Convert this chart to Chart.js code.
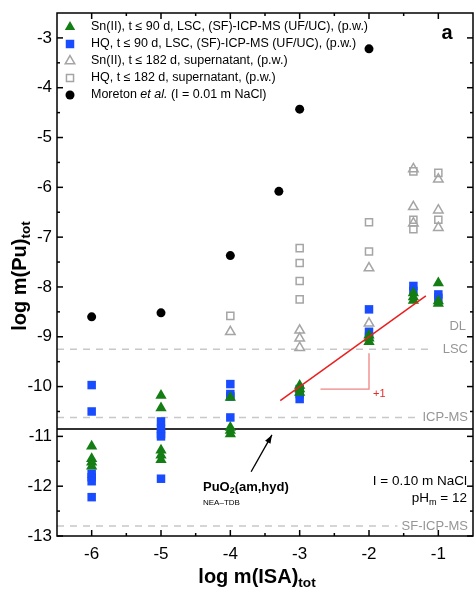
<!DOCTYPE html>
<html>
<head>
<meta charset="utf-8">
<script src="https://cdn.jsdelivr.net/npm/chart.js@4/dist/chart.umd.min.js"></script>
<style>
  html, body { margin: 0; padding: 0; background: #fff; overflow: hidden; width: 475px; height: 592px; }
  #wrap { position: relative; width: 480px; height: 592px; }
</style>
</head>
<body>
<div id="wrap"><canvas id="chart" width="480" height="592"></canvas></div>
<script>
// Pu solubility vs. ISA concentration, I = 0.10 m NaCl, pHm = 12

const FONT = '"Liberation Sans", Arial, Helvetica, sans-serif';

// Sn(II), t <= 90 d (LSC / (SF)-ICP-MS)
const snX = [-6, -6, -6, -6, -5, -5, -5, -5, -5, -4, -4, -4, -4, -3, -3, -3, -2, -2, -2, -1.36, -1.36, -1.36, -1, -1, -1];
const snY = [-11.2, -11.45, -11.52, -11.6, -10.18, -10.43, -11.28, -11.38, -11.47, -10.22, -10.82, -10.88, -10.95,
             -9.98, -10.05, -10.12, -8.97, -9.03, -9.1, -8.12, -8.2, -8.27, -7.92, -8.28, -8.33];

// HQ, t <= 90 d
const hqX = [-6, -6, -6, -6, -6, -6, -5, -5, -5, -5, -5, -4, -4, -4, -4, -3, -3, -3, -2, -2, -2, -1.36, -1.36, -1, -1];
const hqY = [-9.97, -10.5, -11.75, -11.82, -11.9, -12.22, -10.7, -10.85, -10.95, -11.0, -11.85, -9.95, -10.15, -10.2, -10.62,
             -10.05, -10.15, -10.25, -8.45, -8.9, -9.0, -7.98, -8.08, -8.15, -8.22];

// Sn(II), t <= 182 d, supernatant
const snSupX = [-4, -3, -3, -3, -2, -2, -1.36, -1.36, -1.36, -1, -1, -1];
const snSupY = [-8.9, -8.87, -9.03, -9.22, -7.62, -8.73, -5.63, -6.39, -6.72, -5.84, -6.46, -6.81];

// HQ, t <= 182 d, supernatant
const hqSupX = [-4, -3, -3, -3, -3, -2, -2, -1.36, -1.36, -1.36, -1, -1];
const hqSupY = [-8.58, -7.22, -7.52, -7.88, -8.25, -6.7, -7.29, -5.68, -6.65, -6.84, -5.71, -6.65];

// Moreton et al. (I = 0.01 m NaCl)
const morX = [-6, -5, -4, -3.3, -3, -2];
const morY = [-8.6, -8.52, -7.37, -6.08, -4.43, -3.22];

// slope-1 guide line and its +1 triangle
const slopeX = [-3.28, -1.18];
const slopeY = [-10.28, -8.18];
const triX = [-2.7, -2.0, -2.0];
const triY = [-10.05, -10.05, -9.33];

// detection limits and PuO2(am,hyd) solubility
const lscY = -9.25, icpY = -10.62, sfY = -12.8, puo2Y = -10.85;
const lscEnd = -1.08, icpEnd = -1.27, sfEnd = -1.59;

const xTicks = [-6, -5, -4, -3, -2, -1];
const xMinor = [-5.5, -4.5, -3.5, -2.5, -1.5];
const yTicks = [-13, -12, -11, -10, -9, -8, -7, -6, -5, -4, -3];
const yMinor = [-12.5, -11.5, -10.5, -9.5, -8.5, -7.5, -6.5, -5.5, -4.5, -3.5];

const X_MIN = -6.5, X_MAX = -0.5, Y_MIN = -13, Y_MAX = -2.5;

const GREEN = 'rgb(20,125,20)';
const BLUE = 'rgb(25,75,255)';
const GRAY = 'rgb(165,165,165)';
const LIMIT = 'rgb(200,200,200)';

const pts = (xs, ys) => xs.map((x, i) => ({ x, y: ys[i] }));

function font(size, weight, style) {
  return `${style || 'normal'} ${weight || 'normal'} ${size}px ${FONT}`;
}

// text with optional subscript / italic pieces
function richText(ctx, parts, x, y, size, weight, align) {
  const fontFor = p => font(p.sub ? size * 0.68 : size, weight, p.it ? 'italic' : 'normal');
  let w = 0;
  parts.forEach(p => { ctx.font = fontFor(p); w += ctx.measureText(p.t).width; });
  let cx = align === 'right' ? x - w : align === 'center' ? x - w / 2 : x;
  ctx.textAlign = 'left';
  ctx.textBaseline = 'middle';
  parts.forEach(p => {
    ctx.font = fontFor(p);
    ctx.fillText(p.t, cx, p.sub ? y + size * 0.3 : y);
    cx += ctx.measureText(p.t).width;
  });
}

// scale label padding would shrink the plot area; the frame is drawn by hand
const noPad = s => { s.paddingLeft = 0; s.paddingRight = 0; s.paddingTop = 0; s.paddingBottom = 0; };

const frameAndNotes = {
  id: 'frameAndNotes',
  afterDraw(chart) {
    const { ctx, chartArea: a, scales: { x, y } } = chart;
    ctx.save();

    // box and inward ticks
    ctx.strokeStyle = '#000';
    ctx.lineWidth = 1.5;
    ctx.strokeRect(a.left, a.top, a.right - a.left, a.bottom - a.top);
    const tick = (x1, y1, x2, y2) => { ctx.beginPath(); ctx.moveTo(x1, y1); ctx.lineTo(x2, y2); ctx.stroke(); };
    xTicks.forEach(v => { const p = x.getPixelForValue(v); tick(p, a.bottom, p, a.bottom - 6); tick(p, a.top, p, a.top + 6); });
    xMinor.forEach(v => { const p = x.getPixelForValue(v); tick(p, a.bottom, p, a.bottom - 3); tick(p, a.top, p, a.top + 3); });
    yTicks.forEach(v => { const p = y.getPixelForValue(v); tick(a.left, p, a.left + 6, p); tick(a.right, p, a.right - 6, p); });
    yMinor.forEach(v => { const p = y.getPixelForValue(v); tick(a.left, p, a.left + 3, p); tick(a.right, p, a.right - 3, p); });

    // axis titles
    ctx.fillStyle = '#000';
    richText(ctx, [{ t: 'log m(ISA)' }, { t: 'tot', sub: true }], 257, 577, 20, 'bold', 'center');
    ctx.save();
    ctx.translate(20, 276);
    ctx.rotate(-Math.PI / 2);
    richText(ctx, [{ t: 'log m(Pu)' }, { t: 'tot', sub: true }], 0, 0, 20, 'bold', 'center');
    ctx.restore();

    // panel letter
    ctx.font = font(20, 'bold');
    ctx.textAlign = 'center';
    ctx.textBaseline = 'middle';
    ctx.fillText('a', 447, 33);

    // limit labels
    ctx.fillStyle = 'rgb(150,150,150)';
    ctx.font = font(13);
    ctx.textAlign = 'right';
    ctx.fillText('DL', 466, 326);
    ctx.fillText('LSC', 468, y.getPixelForValue(lscY));
    ctx.fillText('ICP-MS', 468, y.getPixelForValue(icpY));
    ctx.fillText('SF-ICP-MS', 468, y.getPixelForValue(sfY));

    // +1 label
    ctx.fillStyle = 'rgb(230,40,40)';
    ctx.font = font(11);
    ctx.textAlign = 'left';
    ctx.fillText('+1', 373, 394);

    // PuO2(am,hyd) annotation with arrow
    ctx.fillStyle = '#000';
    richText(ctx, [{ t: 'PuO' }, { t: '2', sub: true }, { t: '(am,hyd)' }], 203, 487, 13, 'bold', 'left');
    ctx.font = font(8);
    ctx.textAlign = 'left';
    ctx.fillText('NEA\u2013TDB', 203, 503);
    const tx = x.getPixelForValue(-3.70), ty = y.getPixelForValue(-11.71);
    const hx = x.getPixelForValue(-3.40), hy = y.getPixelForValue(-10.97);
    ctx.strokeStyle = '#000';
    ctx.lineWidth = 1.3;
    tick(tx, ty, hx, hy);
    const ang = Math.atan2(hy - ty, hx - tx);
    ctx.beginPath();
    ctx.moveTo(hx, hy);
    ctx.lineTo(hx - 9 * Math.cos(ang - 0.35), hy - 9 * Math.sin(ang - 0.35));
    ctx.lineTo(hx - 9 * Math.cos(ang + 0.35), hy - 9 * Math.sin(ang + 0.35));
    ctx.closePath();
    ctx.fill();

    // conditions
    ctx.fillStyle = '#000';
    richText(ctx, [{ t: 'I = 0.10 m NaCl' }], 467, 481, 13.5, 'normal', 'right');
    richText(ctx, [{ t: 'pH' }, { t: 'm', sub: true }, { t: ' = 12' }], 467, 498, 13.5, 'normal', 'right');

    // legend
    const rows = [
      { style: 'triangle', r: 6, fill: GREEN, stroke: GREEN, parts: [{ t: 'Sn(II), t \u2264 90 d, LSC, (SF)-ICP-MS (UF/UC), (p.w.)' }] },
      { style: 'rect', r: 6, fill: BLUE, stroke: BLUE, parts: [{ t: 'HQ, t \u2264 90 d, LSC, (SF)-ICP-MS (UF/UC), (p.w.)' }] },
      { style: 'triangle', r: 5.5, fill: null, stroke: GRAY, parts: [{ t: 'Sn(II), t \u2264 182 d, supernatant, (p.w.)' }] },
      { style: 'rect', r: 5, fill: null, stroke: GRAY, parts: [{ t: 'HQ, t \u2264 182 d, supernatant, (p.w.)' }] },
      { style: 'circle', r: 4.5, fill: '#000', stroke: '#000', parts: [{ t: 'Moreton ' }, { t: 'et al.', it: true }, { t: ' (I = 0.01 m NaCl)' }] }
    ];
    rows.forEach((row, i) => {
      const ry = 27 + i * 17;
      ctx.fillStyle = row.fill || 'rgba(0,0,0,0)';
      ctx.strokeStyle = row.stroke;
      ctx.lineWidth = 1.5;
      Chart.helpers.drawPoint(ctx, { pointStyle: row.style, radius: row.r, rotation: 0, borderWidth: row.fill ? 0 : 1.5 }, 70, ry);
      ctx.fillStyle = '#000';
      richText(ctx, row.parts, 91, ry, 12.5, 'normal', 'left');
    });

    ctx.restore();
  }
};

const scatterSet = (label, xs, ys, style, r, fill, stroke, bw) => ({
  label, data: pts(xs, ys), pointStyle: style, pointRadius: r,
  backgroundColor: fill, borderColor: stroke, pointBorderWidth: bw, showLine: false
});
const lineSet = (label, data, color, width, dash, order) => ({
  label, data, borderColor: color, borderWidth: width, borderDash: dash || [],
  pointRadius: 0, showLine: true, fill: false, order: order || 0
});

new Chart(document.getElementById('chart').getContext('2d'), {
  type: 'scatter',
  data: {
    datasets: [
      scatterSet('Sn(II), t ≤ 90 d', snX, snY, 'triangle', 6.5, GREEN, GREEN, 0),
      scatterSet('HQ, t ≤ 90 d', hqX, hqY, 'rect', 6, BLUE, BLUE, 0),
      scatterSet('Sn(II), t ≤ 182 d', snSupX, snSupY, 'triangle', 5.5, 'rgba(0,0,0,0)', GRAY, 1.5),
      scatterSet('HQ, t ≤ 182 d', hqSupX, hqSupY, 'rect', 5, 'rgba(0,0,0,0)', GRAY, 1.5),
      scatterSet('Moreton et al.', morX, morY, 'circle', 4.5, '#000', '#000', 0),
      lineSet('slope 1', pts(slopeX, slopeY), 'rgb(235,30,30)', 1.5, null, -1),
      lineSet('+1', pts(triX, triY), 'rgba(235,90,90,0.75)', 1.3),
      lineSet('PuO2(am,hyd)', [{ x: X_MIN, y: puo2Y }, { x: X_MAX, y: puo2Y }], 'rgb(50,50,50)', 2),
      lineSet('LSC', [{ x: X_MIN, y: lscY }, { x: lscEnd, y: lscY }], LIMIT, 1.5, [7, 6]),
      lineSet('ICP-MS', [{ x: X_MIN, y: icpY }, { x: icpEnd, y: icpY }], LIMIT, 1.5, [7, 6]),
      lineSet('SF-ICP-MS', [{ x: X_MIN, y: sfY }, { x: sfEnd, y: sfY }], LIMIT, 1.5, [7, 6])
    ]
  },
  options: {
    responsive: false,
    animation: false,
    layout: { padding: { top: 13, right: 1, left: 0, bottom: 0 } },
    plugins: { legend: { display: false }, tooltip: { enabled: false } },
    scales: {
      x: {
        type: 'linear', min: X_MIN, max: X_MAX,
        afterBuildTicks: s => { s.ticks = xTicks.map(v => ({ value: v })); },
        afterFit: s => { s.height = 56; noPad(s); },
        grid: { display: false, drawTicks: false },
        border: { display: false },
        ticks: { color: '#000', padding: 8, font: { family: FONT, size: 17 }, callback: v => String(v) }
      },
      y: {
        type: 'linear', min: Y_MIN, max: Y_MAX,
        afterBuildTicks: s => { s.ticks = yTicks.map(v => ({ value: v })); },
        afterFit: s => { s.width = 57; noPad(s); },
        grid: { display: false, drawTicks: false },
        border: { display: false },
        ticks: { color: '#000', padding: 5, font: { family: FONT, size: 17 }, callback: v => String(v) }
      }
    }
  },
  plugins: [frameAndNotes]
});
</script>
</body>
</html>
